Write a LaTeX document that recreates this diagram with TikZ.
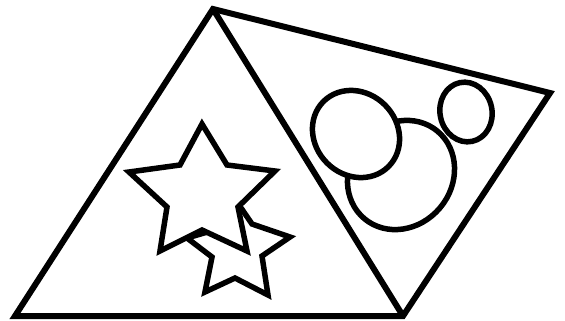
\documentclass[tikz,border=0pt]{standalone}
\begin{document}
\begin{tikzpicture}[x=1pt,y=-1pt,
  edgeline/.style={line width=6pt, line join=miter},
  figline/.style={line width=5.5pt, line join=miter},
  cover/.style={figline, fill=white}]
\useasboundingbox (0,0) rectangle (565,321);
% frame
\coordinate (T) at (213,9);
\coordinate (L) at (15,316);
\coordinate (B) at (403,316);
\coordinate (R) at (550,93);
\draw[edgeline] (L) -- (T) -- (R) -- (B) -- cycle;
\draw[edgeline] (T) -- (B);
% ellipses
\coordinate (cB) at (401,175);
\coordinate (cA) at (356,134);
\coordinate (cC) at (466,112);
\draw[figline, rotate around={50:(cB)}] (cB) ellipse [x radius=57pt, y radius=51pt];
\draw[cover, rotate around={-45:(cA)}] (cA) ellipse [x radius=46pt, y radius=41pt];
\draw[figline, rotate around={12:(cC)}] (cC) ellipse [x radius=26pt, y radius=30pt];
% stars
\draw[figline] (237,202) -- (252,224) -- (290,237) -- (262,256) -- (268,295)
  -- (235,278) -- (205,292) -- (212,257) -- (187,238) -- (221,228) -- cycle;
\draw[cover] (202,124) -- (227,165) -- (275,171) -- (238,207) -- (247,251)
  -- (202,230) -- (160,251) -- (167,207) -- (129,172) -- (180,165) -- cycle;
\end{tikzpicture}
\end{document}
